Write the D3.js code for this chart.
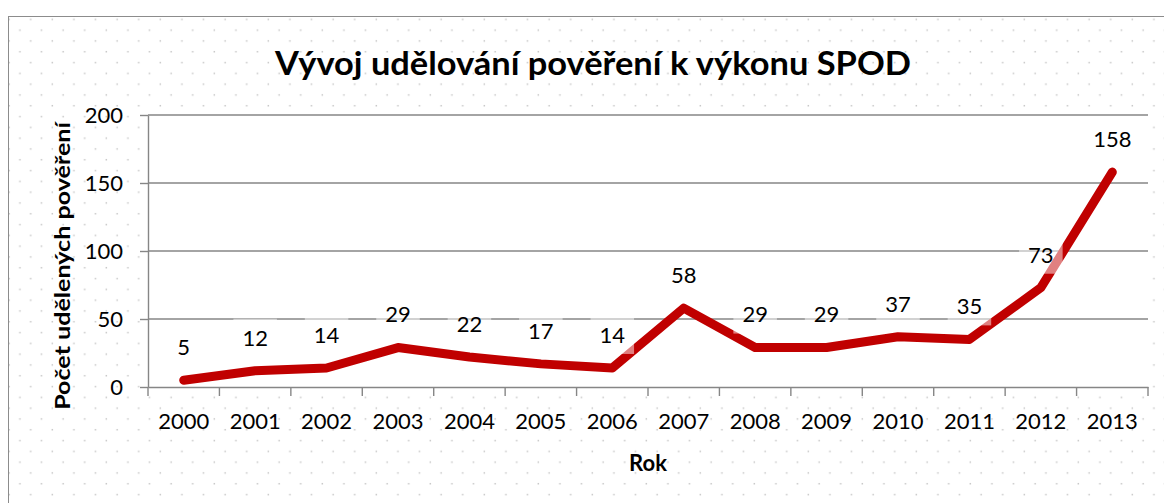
<!DOCTYPE html>
<html>
<head>
<meta charset="utf-8">
<script src="https://cdn.jsdelivr.net/npm/d3@7"></script>
<style>
  html, body { margin: 0; padding: 0; background: #ffffff; }
  svg { display: block; }
  text { font-family: Lato, "Open Sans", sans-serif; fill: #000; }
</style>
</head>
<body>
<svg id="chart" width="1164" height="503"></svg>
<script>
// Počet udělených pověření k výkonu SPOD podle roku
const years = ["2000", "2001", "2002", "2003", "2004", "2005", "2006",
               "2007", "2008", "2009", "2010", "2011", "2012", "2013"];
const counts = [5, 12, 14, 29, 22, 17, 14, 58, 29, 29, 37, 35, 73, 158];
const yTicks = [0, 50, 100, 150, 200];

const chartTitle = "Vývoj udělování pověření k výkonu SPOD";
const yTitle = "Počet udělených pověření";
const xTitle = "Rok";

const W = 1164, H = 503;
const plot = { left: 148, right: 1148, top: 115, bottom: 387 };
const lineColor = "#c00000";
const axisColor = "#868686";

const svg = d3.select("#chart");

// dotted chart-area fill
const defs = svg.append("defs");
const pat = defs.append("pattern")
  .attr("id", "dots")
  .attr("patternUnits", "userSpaceOnUse")
  .attr("x", 0).attr("y", 0)
  .attr("width", 21.6).attr("height", 21.6);
pat.append("rect").attr("x", 8.4).attr("y", 18.6).attr("width", 1.5).attr("height", 1.5).attr("fill", "#c6c6c6");
pat.append("rect").attr("x", 19.2).attr("y", 7.8).attr("width", 1.5).attr("height", 1.5).attr("fill", "#c6c6c6");

svg.append("rect")
  .attr("x", 8.5).attr("y", 16.5)
  .attr("width", W + 10).attr("height", H + 10)
  .attr("fill", "#ffffff");
svg.append("rect")
  .attr("x", 8.5).attr("y", 16.5)
  .attr("width", W + 10).attr("height", H + 10)
  .attr("fill", "url(#dots)")
  .attr("stroke", "#8c8c8c").attr("stroke-width", 1);

// plot area
svg.append("rect")
  .attr("x", plot.left).attr("y", plot.top)
  .attr("width", plot.right - plot.left).attr("height", plot.bottom - plot.top)
  .attr("fill", "#ffffff");

const x = d3.scaleBand().domain(years).range([plot.left, plot.right]).paddingInner(0).paddingOuter(0);
const y = d3.scaleLinear().domain([0, 200]).range([plot.bottom, plot.top]);
const cx = d => x(d) + x.bandwidth() / 2;

// horizontal gridlines
svg.append("g").selectAll("line")
  .data(yTicks.filter(t => t > 0))
  .join("line")
  .attr("x1", plot.left).attr("x2", plot.right)
  .attr("y1", d => y(d)).attr("y2", d => y(d))
  .attr("stroke", axisColor).attr("stroke-width", 1.4);

// y axis
const yAxis = svg.append("g")
  .attr("transform", `translate(${plot.left},0)`)
  .call(d3.axisLeft(y).tickValues(yTicks).tickSize(8).tickPadding(17).tickSizeOuter(0));
yAxis.select(".domain").attr("stroke", axisColor).attr("stroke-width", 1.4);
yAxis.selectAll(".tick line").attr("stroke", axisColor).attr("stroke-width", 1.4);
yAxis.selectAll(".tick text")
  .attr("font-family", "Lato, sans-serif").attr("font-size", 22)
  .attr("fill", "#000").attr("dy", "0.36em");

// x axis with ticks at category boundaries
const xAxis = svg.append("g")
  .attr("transform", `translate(0,${plot.bottom})`)
  .call(d3.axisBottom(x).tickSize(0).tickSizeOuter(0).tickPadding(26));
xAxis.select(".domain").attr("stroke", axisColor).attr("stroke-width", 1.4);
xAxis.selectAll(".tick text")
  .attr("font-family", "Lato, sans-serif").attr("font-size", 22)
  .attr("fill", "#000").attr("dy", "0.36em").attr("y", 34);
const bounds = years.map(d => x(d)).concat([plot.right]);
xAxis.append("g").selectAll("line")
  .data(bounds)
  .join("line")
  .attr("x1", d => d).attr("x2", d => d)
  .attr("y1", 0).attr("y2", 9)
  .attr("stroke", axisColor).attr("stroke-width", 1.4);

// series line
const pts = years.map((yr, i) => ({ yr, v: counts[i] }));
svg.append("path")
  .datum(pts)
  .attr("fill", "none")
  .attr("stroke", lineColor)
  .attr("stroke-width", 9)
  .attr("stroke-linejoin", "round")
  .attr("stroke-linecap", "round")
  .attr("d", d3.line().x(d => cx(d.yr)).y(d => y(d.v)));

// value labels above the points, on translucent white boxes
const labels = svg.append("g");
pts.forEach(p => {
  const g = labels.append("g");
  const box = g.append("rect");
  const t = g.append("text")
    .attr("x", cx(p.yr))
    .attr("y", y(p.v) - 33)
    .attr("dy", "0.36em")
    .attr("text-anchor", "middle")
    .attr("font-size", 22)
    .text(p.v);
  const w = t.node().getComputedTextLength() + 18;
  box.attr("x", cx(p.yr) - w / 2)
    .attr("y", y(p.v) - 33 - 19)
    .attr("width", w).attr("height", 38)
    .attr("fill", "#ffffff").attr("fill-opacity", 0.5);
});

// titles: narrowed horizontally to the width of a condensed face
function condensed(parent, str, size, width, cxPos, cyPos, rotate) {
  const g = parent.append("g")
    .attr("transform", `translate(${cxPos},${cyPos})` + (rotate ? " rotate(-90)" : ""));
  const inner = g.append("g");
  const t = inner.append("text")
    .attr("x", 0).attr("y", 0)
    .attr("text-anchor", "middle")
    .attr("font-weight", "bold")
    .attr("font-size", size)
    .text(str);
  const len = t.node().getComputedTextLength();
  inner.attr("transform", `scale(${width / len},1)`);
  return t;
}

condensed(svg, chartTitle, 33, 636, 593, 75, false);
condensed(svg, yTitle, 21, 288, 62, 266, true).attr("dy", "0.36em");

svg.append("text")
  .attr("x", 648).attr("y", 463)
  .attr("dy", "0.36em")
  .attr("text-anchor", "middle")
  .attr("font-weight", "bold")
  .attr("font-size", 22)
  .text(xTitle);
</script>
</body>
</html>
